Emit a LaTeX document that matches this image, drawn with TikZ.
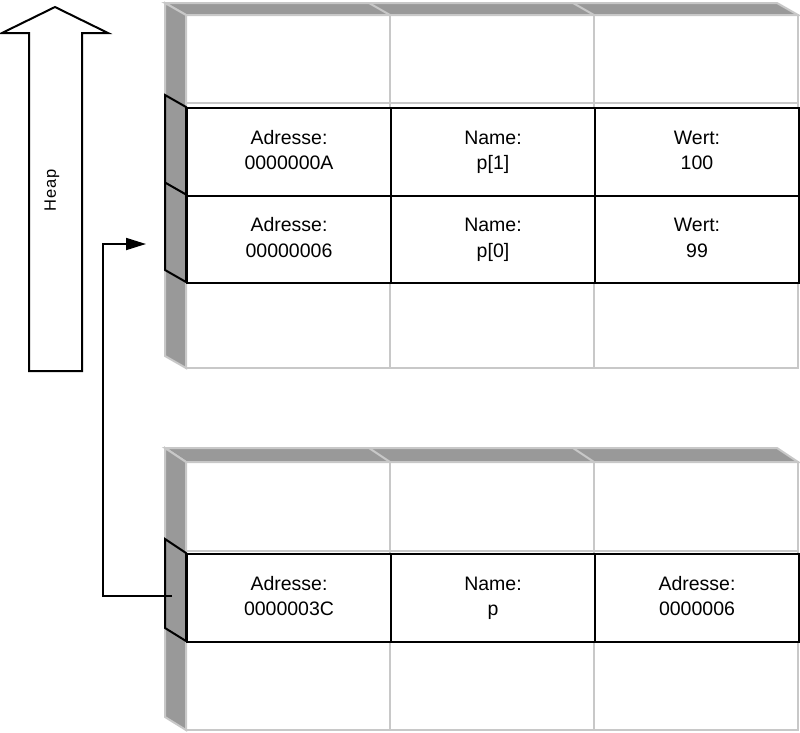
\documentclass[tikz,border=0pt]{standalone}
\usepackage{fontspec}
\setmainfont{Liberation Sans}
\usetikzlibrary{arrows.meta}
\definecolor{gridgray}{HTML}{C8C8C8}
\definecolor{facegray}{HTML}{999999}
\begin{document}
\begin{tikzpicture}[x=1pt,y=-1pt,
  gridline/.style={draw=gridgray,line width=2pt},
  face/.style={fill=facegray,draw=gridgray,line width=2pt,line join=miter},
  cell/.style={draw=black,line width=2pt,fill=white,minimum width=204pt,minimum height=87.5pt,inner sep=0pt,align=center,font=\fontsize{19.5}{25.5}\selectfont,anchor=north west},
  bside/.style={fill=facegray,draw=black,line width=2pt,line join=miter},
  conn/.style={draw=black,line width=1.8pt},
  heaparrow/.style={draw=black,fill=white,line width=2pt,line join=miter},
]
\useasboundingbox (0,0) rectangle (800,732);

% ---------- top memory block (grid) ----------
\fill[white] (186,15) rectangle (798,368);
\draw[gridline] (186,15) rectangle (798,368);
\draw[gridline] (390,15) -- (390,368) (594,15) -- (594,368);
\draw[gridline] (186,103) -- (798,103) (186,191) -- (798,191) (186,280) -- (798,280);
\draw[face] (165,3) -- (777,3) -- (798,15) -- (186,15) -- cycle;
\draw[gridline] (369,3) -- (390,15) (573,3) -- (594,15);
\draw[face] (165,3) -- (186,15) -- (186,368) -- (165,356) -- cycle;

% ---------- top highlighted rows ----------
\draw[bside] (165,95) -- (186,107) -- (186,282) -- (165,270) -- cycle;
\draw[bside] (165,182.5) -- (186,194.5);
\node[cell] (a1) at (186,107) {\strut Adresse:\\\strut 0000000A};
\node[cell] (n1) at (390,107) {\strut Name:\\\strut p[1]};
\node[cell] (w1) at (594,107) {\strut Wert:\\\strut 100};
\node[cell] (a0) at (186,194.5) {\strut Adresse:\\\strut 00000006};
\node[cell] (n0) at (390,194.5) {\strut Name:\\\strut p[0]};
\node[cell] (w0) at (594,194.5) {\strut Wert:\\\strut 99};

% ---------- bottom memory block (grid) ----------
\fill[white] (186,462) rectangle (798,730);
\draw[gridline] (186,462) rectangle (798,730);
\draw[gridline] (390,462) -- (390,730) (594,462) -- (594,730);
\draw[gridline] (186,551) -- (798,551) (186,641) -- (798,641);
\draw[face] (165,448) -- (777,448) -- (798,462) -- (186,462) -- cycle;
\draw[gridline] (369,448) -- (390,462) (573,448) -- (594,462);
\draw[face] (165,448) -- (186,462) -- (186,730) -- (165,717) -- cycle;

% ---------- bottom highlighted row ----------
\draw[bside] (165,539) -- (186,553) -- (186,641) -- (165,628) -- cycle;
\node[cell,minimum height=88pt] (ap) at (186,553) {\strut Adresse:\\\strut 0000003C};
\node[cell,minimum height=88pt] (np) at (390,553) {\strut Name:\\\strut p};
\node[cell,minimum height=88pt] (vp) at (594,553) {\strut Adresse:\\\strut 0000006};

% ---------- heap arrow ----------
\draw[heaparrow] (29,371) -- (29,33) -- (2,33) -- (55,7) -- (108,33) -- (82,33) -- (82,371) -- cycle;
\node[rotate=90,font=\addfontfeature{LetterSpace=6}\fontsize{16.5}{18}\selectfont] (heap) at (52,190) {Heap};

% ---------- pointer connector ----------
\coordinate (src) at (172,596);
\coordinate (tgt) at (146,244);
\draw[conn,-{Triangle[length=20pt,width=12pt]}] (src) -- ++(-69,0) |- (tgt);
\end{tikzpicture}
\end{document}
